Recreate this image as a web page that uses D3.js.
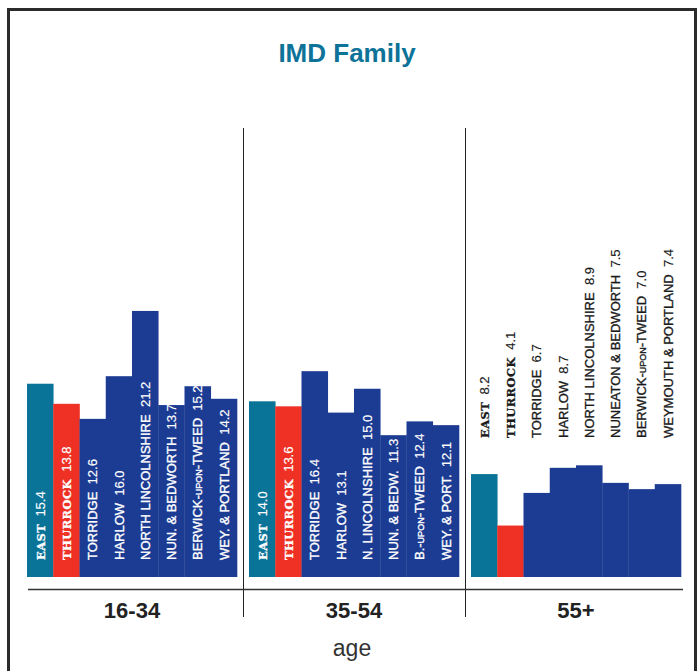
<!DOCTYPE html>
<html>
<head>
<meta charset="utf-8">
<script src="https://cdn.jsdelivr.net/npm/d3@7"></script>
<style>
  html, body { margin: 0; padding: 0; background: #fff; }
  svg { display: block; }
  text { white-space: pre; }
</style>
</head>
<body>
<svg id="chart" width="699" height="671"></svg>
<script>
// ---- data ----
const title = "IMD Family";
const axisTitle = "age";
const ageGroups = ["16-34", "35-54", "55+"];
const areas = ["EAST", "THURROCK", "TORRIDGE", "HARLOW", "NORTH LINCOLNSHIRE",
               "NUNEATON & BEDWORTH", "BERWICK-UPON-TWEED", "WEYMOUTH & PORTLAND"];
const values16_34 = [15.4, 13.8, 12.6, 16.0, 21.2, 13.7, 15.2, 14.2];
const values35_54 = [14.0, 13.6, 16.4, 13.1, 15.0, 11.3, 12.4, 12.1];
const values55    = [8.2, 4.1, 6.7, 8.7, 8.9, 7.5, 7.0, 7.4];
// label texts: [before small-caps part, small-caps part, after]
const labels16_34 = [["EAST"], ["THURROCK"], ["TORRIDGE"], ["HARLOW"], ["NORTH LINCOLNSHIRE"],
                     ["NUN. & BEDWORTH"], ["BERWICK-", "UPON", "-TWEED"], ["WEY. & PORTLAND"]];
const labels35_54 = [["EAST"], ["THURROCK"], ["TORRIDGE"], ["HARLOW"], ["N. LINCOLNSHIRE"],
                     ["NUN. & BEDW."], ["B.-", "UPON", "-TWEED"], ["WEY. & PORT."]];
const labels55    = [["EAST"], ["THURROCK"], ["TORRIDGE"], ["HARLOW"], ["NORTH LINCOLNSHIRE"],
                     ["NUNEATON & BEDWORTH"], ["BERWICK-", "UPON", "-TWEED"], ["WEYMOUTH & PORTLAND"]];
const seriesValues = [values16_34, values35_54, values55];
const seriesLabels = [labels16_34, labels35_54, labels55];

// ---- styles ----
const colEast = "#0a7398", colThurrock = "#ee3124", colOther = "#1c3b93";
const sansFont = "'Liberation Sans', Arial, Helvetica, sans-serif";
const slabFont = "'DejaVu Serif', 'Liberation Serif', serif";

const svg = d3.select("#chart");

// frame
svg.append("rect").attr("x", 8.5).attr("y", 9.5).attr("width", 687).attr("height", 700)
  .attr("fill", "none").attr("stroke", "#2b2b2b").attr("stroke-width", 3);

// title
svg.append("text").attr("x", 347).attr("y", 62).attr("text-anchor", "middle")
  .attr("font-family", sansFont).attr("font-weight", "bold").attr("font-size", 26)
  .attr("fill", "#0e7398").text(title);

// scales
const x0 = d3.scaleBand().domain(ageGroups).range([27, 681]).paddingInner(12 / 222).paddingOuter(0);
const x1 = d3.scaleBand().domain(areas).range([0, x0.bandwidth()]).padding(0);
const y = d3.scaleLinear().domain([0, 25]).range([577, 577 - 25 * 12.55]);

const color = a => a === "EAST" ? colEast : (a === "THURROCK" ? colThurrock : colOther);

// data table
const rows = [];
ageGroups.forEach((g, gi) => {
  areas.forEach((a, ai) => {
    rows.push({ group: g, gi, area: a, ai, value: seriesValues[gi][ai], label: seriesLabels[gi][ai] });
  });
});

// dividers
const step = x0.step();
ageGroups.slice(0, -1).forEach(g => {
  const xd = Math.round(x0(g) + x0.bandwidth() + (step - x0.bandwidth()) / 2) + 0.5;
  svg.append("line").attr("x1", xd).attr("x2", xd).attr("y1", 128).attr("y2", 617)
    .attr("stroke", "#222").attr("stroke-width", 1);
});

// bars
svg.append("g").selectAll("rect").data(rows).join("rect")
  .attr("x", d => x0(d.group) + x1(d.area))
  .attr("y", d => y(d.value))
  .attr("width", x1.bandwidth() + 0.3)
  .attr("height", d => y(0) - y(d.value))
  .attr("fill", d => color(d.area));

// labels
const lab = svg.append("g").selectAll("text").data(rows).join("text")
  .attr("transform", d => {
    const cx = x0(d.group) + x1(d.area) + x1.bandwidth() / 2;
    const by = d.gi === 2 ? 438 : 560;
    return `translate(${cx},${by}) rotate(-90)`;
  })
  .attr("dy", "0.36em")
  .attr("text-anchor", "start")
  .attr("fill", d => d.gi === 2 ? "#1a1a1a" : "#ffffff")
  .attr("stroke", d => d.gi === 2 ? "#1a1a1a" : "#ffffff")
  .attr("stroke-width", 0.35)
  .attr("font-size", 13)
  .attr("font-family", sansFont);

lab.each(function(d) {
  const t = d3.select(this);
  const serif = d.area === "EAST" || d.area === "THURROCK";
  if (serif) {
    t.append("tspan").attr("font-family", slabFont).attr("font-weight", "bold")
      .attr("stroke-width", 0.3).attr("letter-spacing", 0.4)
      .attr("font-size", 11.5).text(d.label[0]);
  } else {
    t.append("tspan").text(d.label[0]);
    if (d.label.length > 1) {
      t.append("tspan").attr("font-size", 9).text(d.label[1]);
      t.append("tspan").text(d.label[2]);
    }
  }
  t.append("tspan").attr("stroke-width", 0.15).attr("letter-spacing", 0)
    .text("  " + d3.format(".1f")(d.value));
});

// baseline
svg.append("line").attr("x1", 28).attr("x2", 683).attr("y1", 589.5).attr("y2", 589.5)
  .attr("stroke", "#333").attr("stroke-width", 1.5);

// group tick labels
svg.append("g").selectAll("text").data(ageGroups).join("text")
  .attr("x", d => x0(d) + x0.bandwidth() / 2)
  .attr("y", 618)
  .attr("text-anchor", "middle")
  .attr("font-family", sansFont).attr("font-weight", "bold").attr("font-size", 22)
  .attr("fill", "#222")
  .text(d => d);

// axis title
svg.append("text").attr("x", 352).attr("y", 656).attr("text-anchor", "middle")
  .attr("font-family", sansFont).attr("font-size", 23).attr("fill", "#333")
  .text(axisTitle);
</script>
</body>
</html>
